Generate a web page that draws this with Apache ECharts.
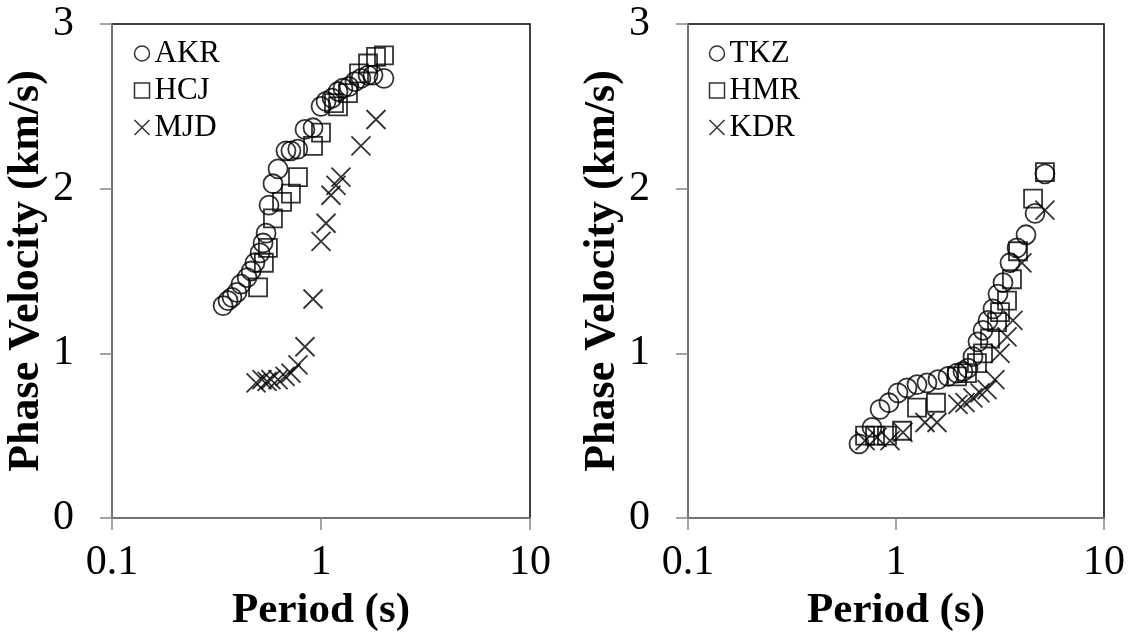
<!DOCTYPE html>
<html><head><meta charset="utf-8">
<script src="https://cdn.jsdelivr.net/npm/echarts@6/dist/echarts.min.js"></script>
<style>html,body{margin:0;padding:0;background:#fff}#c{width:1134px;height:637px}</style>
</head><body><div id="c"></div>
<script>
// Left panel
const akrPeriod = [0.340,0.359,0.375,0.396,0.414,0.443,0.463,0.483,0.511,0.528,0.546,0.564,0.589,0.623,0.680,0.718,0.774,0.838,0.916,1.00,1.057,1.129,1.206,1.274,1.361,1.454,1.553,1.679,1.774,2.002];
const akrVel    = [1.29,1.32,1.34,1.37,1.42,1.46,1.50,1.55,1.61,1.67,1.73,1.90,2.03,2.12,2.23,2.23,2.24,2.36,2.37,2.50,2.53,2.55,2.59,2.61,2.62,2.65,2.67,2.69,2.69,2.67];
const hcjPeriod = [0.500,0.533,0.557,0.589,0.651,0.718,0.776,0.916,1.000,1.154,1.206,1.346,1.520,1.679,1.833,2.002];
const hcjVel    = [1.40,1.55,1.64,1.82,1.92,1.97,2.07,2.26,2.34,2.52,2.50,2.58,2.70,2.76,2.80,2.81];
const mjdPeriod = [0.489,0.522,0.552,0.576,0.623,0.673,0.718,0.776,0.838,0.916,1.000,1.057,1.116,1.180,1.246,1.553,1.833];
const mjdVel    = [0.82,0.84,0.83,0.84,0.84,0.86,0.88,0.93,1.04,1.33,1.68,1.79,1.96,2.02,2.07,2.26,2.42];
// Right panel
const tkzPeriod = [0.664,0.767,0.838,0.925,1.022,1.129,1.262,1.409,1.591,1.778,1.964,2.099,2.219,2.344,2.479,2.620,2.769,2.926,3.093,3.269,3.532,3.819,4.217,4.66,5.20];
const tkzVel    = [0.45,0.55,0.66,0.70,0.76,0.79,0.81,0.82,0.84,0.86,0.88,0.89,0.91,0.98,1.07,1.14,1.20,1.27,1.36,1.43,1.55,1.64,1.72,1.85,2.09];
const hmrPeriod = [0.710,0.793,0.905,1.069,1.262,1.557,1.964,2.194,2.450,2.620,2.831,3.06,3.163,3.418,3.61,3.86,4.56,5.20];
const hmrVel    = [0.50,0.50,0.50,0.53,0.67,0.70,0.86,0.88,0.94,1.00,1.09,1.19,1.25,1.32,1.45,1.62,1.94,2.10];
const kdrPeriod = [0.710,0.810,0.936,1.080,1.378,1.574,1.986,2.147,2.344,2.534,2.74,2.99,3.163,3.418,3.65,4.03,5.20];
const kdrVel    = [0.47,0.49,0.47,0.52,0.58,0.58,0.69,0.70,0.73,0.76,0.78,0.84,1.00,1.10,1.20,1.55,1.87];

const leftNames = ['AKR','HCJ','MJD'];
const rightNames = ['TKZ','HMR','KDR'];
const xTitle = 'Period (s)';
const yTitle = 'Phase Velocity (km/s)';

const FONT = '"Liberation Serif","Times New Roman",serif';
const GRAY = '#868686';
const X_PATH = 'path://M0,0L10,10M10,0L0,10';

function zip(a,b){return a.map((v,i)=>[v,b[i]]);}

function xAx(gi){
  return {type:'log', logBase:10, min:0.1, max:10, gridIndex:gi,
    name:xTitle, nameLocation:'middle', nameGap:66,
    nameTextStyle:{fontFamily:FONT,fontWeight:'bold',fontSize:43,color:'#000'},
    axisLine:{lineStyle:{color:GRAY,width:1.5}},
    axisTick:{show:true,inside:false,length:12,lineStyle:{color:GRAY,width:1.5}},
    minorTick:{show:false}, splitLine:{show:false},
    axisLabel:{fontFamily:FONT,fontSize:42,color:'#000',margin:24,
      formatter:v=>String(+v.toPrecision(3))}};
}
function yAx(gi){
  return {type:'value', min:0, max:3, interval:1, gridIndex:gi,
    name:yTitle, nameLocation:'middle', nameGap:60,
    nameTextStyle:{fontFamily:FONT,fontWeight:'bold',fontSize:44,color:'#000'},
    axisLine:{show:true,lineStyle:{color:GRAY,width:1.5}},
    axisTick:{show:true,inside:false,length:12,lineStyle:{color:GRAY,width:1.5}},
    splitLine:{show:false},
    axisLabel:{fontFamily:FONT,fontSize:42,color:'#000',margin:38}};
}
function sc(name,data,sym,gi){
  return {type:'scatter', name, data, xAxisIndex:gi, yAxisIndex:gi,
    symbol:sym, symbolSize: sym==='rect'?18:19,
    itemStyle:{color:'none',borderColor:'#000',borderWidth:1.8},
    emphasis:{disabled:true}, animation:false};
}
function lg(names,left){
  return {orient:'vertical', left, top:33, itemGap:6, itemWidth:15, itemHeight:15,
    selectedMode:false,
    itemStyle:{borderWidth:1.5},
    textStyle:{fontFamily:FONT,fontSize:31,color:'#000'},
    data:[{name:names[0],icon:'circle'},{name:names[1],icon:'rect'},{name:names[2],icon:X_PATH}]};
}

const chart = echarts.init(document.getElementById('c'),null,{renderer:'canvas'});
chart.setOption({
  backgroundColor:'#fff',
  animation:false,
  grid:[
    {left:112, top:24, width:418, height:494, show:true, borderColor:'#000', borderWidth:1.5, backgroundColor:'transparent'},
    {left:688, top:24, width:416, height:494, show:true, borderColor:'#000', borderWidth:1.5, backgroundColor:'transparent'}
  ],
  xAxis:[xAx(0), xAx(1)],
  yAxis:[yAx(0), yAx(1)],
  legend:[lg(leftNames,127), lg(rightNames,702)],
  series:[
    sc('AKR',zip(akrPeriod,akrVel),'circle',0),
    sc('HCJ',zip(hcjPeriod,hcjVel),'rect',0),
    sc('MJD',zip(mjdPeriod,mjdVel),X_PATH,0),
    sc('TKZ',zip(tkzPeriod,tkzVel),'circle',1),
    sc('HMR',zip(hmrPeriod,hmrVel),'rect',1),
    sc('KDR',zip(kdrPeriod,kdrVel),X_PATH,1)
  ]
});
</script></body></html>
